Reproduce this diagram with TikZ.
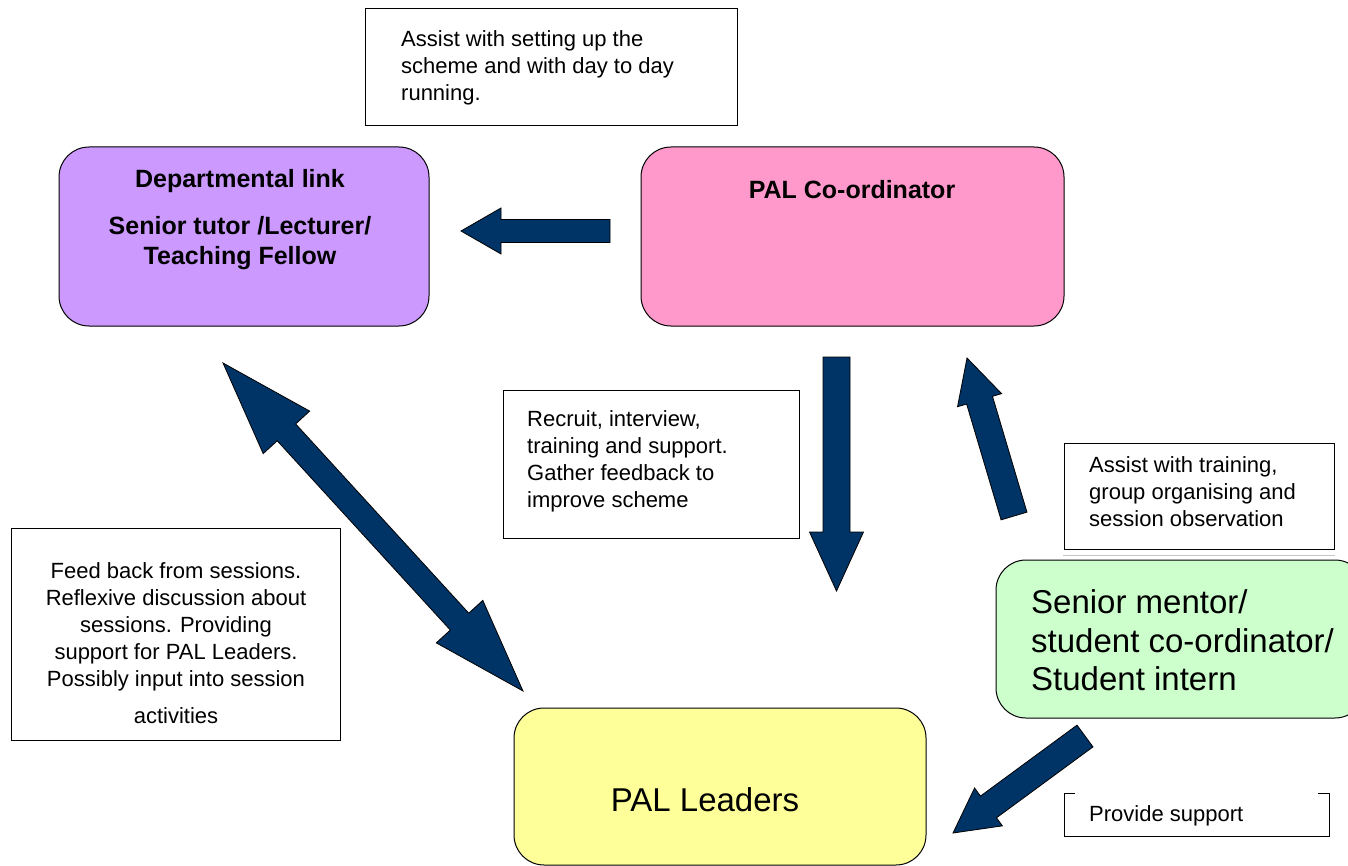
\documentclass[tikz,border=0pt]{standalone}
\usepackage{fontspec}
\setmainfont{Liberation Sans}
\usetikzlibrary{calc}
\definecolor{lav}{HTML}{CC99FF}
\definecolor{pinkc}{HTML}{FF99CC}
\definecolor{greenc}{HTML}{CCFFCC}
\definecolor{yellowc}{HTML}{FFFF99}
\definecolor{navy}{HTML}{003366}
\tikzset{
  rbox/.style={draw=black, line width=1pt, rounded corners=30pt, inner sep=0pt},
  tbox/.style={draw=black, line width=0.9pt, inner sep=0pt, fill=white},
  smalltxt/.style={font=\fontsize{22}{27}\selectfont, inner sep=0pt},
  boldtxt/.style={font=\bfseries\fontsize{25}{30}\selectfont, inner sep=0pt, align=center},
  bigtxt/.style={font=\fontsize{33}{38.5}\selectfont, inner sep=0pt},
  barrow/.style={draw=black, line width=0.8pt, fill=navy, line join=miter},
}
\newcommand\blockarrow[5]{%
  \path let \p1=(#1), \p2=(#2) in \pgfextra{%
    \pgfmathsetmacro\tmpang{atan2(\y2-\y1,\x2-\x1)}%
    \pgfmathsetmacro\tmplen{veclen(\x2-\x1,\y2-\y1)}%
    \xdef\baang{\tmpang}\xdef\balen{\tmplen}};
  \begin{scope}[shift={(#1)}, rotate=\baang, x=1pt, y=1pt]
    \pgfmathsetmacro\bb{\balen-#5}
    \draw[barrow] (0,-#3/2) -- (\bb,-#3/2) -- (\bb,-#4/2) -- (\balen,0)
      -- (\bb,#4/2) -- (\bb,#3/2) -- (0,#3/2) -- cycle;
  \end{scope}}
\newcommand\dblarrow[5]{%
  \path let \p1=(#1), \p2=(#2) in \pgfextra{%
    \pgfmathsetmacro\tmpang{atan2(\y2-\y1,\x2-\x1)}%
    \pgfmathsetmacro\tmplen{veclen(\x2-\x1,\y2-\y1)}%
    \xdef\baang{\tmpang}\xdef\balen{\tmplen}};
  \begin{scope}[shift={(#1)}, rotate=\baang, x=1pt, y=1pt]
    \pgfmathsetmacro\bb{\balen-#5}
    \draw[barrow] (0,0) -- (#5,#4/2) -- (#5,#3/2) -- (\bb,#3/2) -- (\bb,#4/2)
      -- (\balen,0) -- (\bb,-#4/2) -- (\bb,-#3/2) -- (#5,-#3/2) -- (#5,-#4/2) -- cycle;
  \end{scope}}
\begin{document}
\begin{tikzpicture}[x=1pt, y=-1pt]
\useasboundingbox (0,0) rectangle (1348,866);
% boxes
\node[tbox, minimum width=372pt, minimum height=117pt] (topbox) at (551,66.5) {};
\node[smalltxt, anchor=west, align=left] (topbox-t) at (401,68) {Assist with setting up the\\scheme and with day to day\\running.};

\node[rbox, fill=lav, minimum width=370pt, minimum height=179pt] (dept) at (244,236.5) {};
\node[boldtxt] (dept-a) at (240,181) {Departmental link};
\node[boldtxt] (dept-b) at (240,243) {Senior tutor /Lecturer/\\Teaching Fellow};

\node[rbox, fill=pinkc, minimum width=423pt, minimum height=179pt] (coord) at (852.5,236.5) {};
\node[boldtxt] (coord-t) at (852,190) {PAL Co-ordinator};

\node[tbox, minimum width=296pt, minimum height=148pt] (recruit) at (651,464) {};
\node[smalltxt, anchor=west, align=left] (recruit-t) at (527,461.5) {Recruit, interview,\\training and support.\\Gather feedback to\\improve scheme};

\node[tbox, minimum width=270pt, minimum height=106pt] (train) at (1199,496) {};
\node[smalltxt, anchor=west, align=left] (train-t) at (1089,492) {Assist with training,\\group organising and\\session observation};
\draw[gray!45, line width=1pt] (1063,555) -- (1335,555);

\node[rbox, fill=greenc, minimum width=369pt, minimum height=158pt] (mentor) at (1180.5,639) {};
\node[bigtxt, anchor=west, align=left] (mentor-t) at (1031,640.5) {Senior mentor/\\student co-ordinator/\\Student intern};

\node[tbox, minimum width=329pt, minimum height=212pt] (feed) at (175.5,634) {};
\node[smalltxt, align=center] (feed-t) at (176,643.5) {Feed back from sessions.\\Reflexive discussion about\\sessions. Providing\\support for PAL Leaders.\\Possibly input into session\\[10pt]activities};

\node[rbox, fill=yellowc, minimum width=412pt, minimum height=157pt] (leaders) at (720,786.5) {};
\node[bigtxt] (leaders-t) at (705,800) {PAL Leaders};

\draw[black, line width=0.9pt] (1075,793) -- (1064,793) -- (1064,836) -- (1329,836) -- (1329,793) -- (1318,793);
\node[smalltxt, anchor=west] (support-t) at (1089,816) {Provide support};

% arrow end points
\coordinate (a1-tail) at (610,231);
\coordinate (a1-tip) at (461,231);
\coordinate (a2-tail) at (836.5,357);
\coordinate (a2-tip) at (836.5,591);
\coordinate (a3-tail) at (1014,516);
\coordinate (a3-tip) at (967,358);
\coordinate (a4-tipA) at (223,363);
\coordinate (a4-tipB) at (523,691);
\coordinate (a5-tail) at (1085,736);
\coordinate (a5-tip) at (953,833);

\blockarrow{a1-tail}{a1-tip}{23}{46}{40}
\blockarrow{a2-tail}{a2-tip}{27}{54}{59}
\blockarrow{a3-tail}{a3-tip}{27}{46}{44}
\dblarrow{a4-tipA}{a4-tipB}{25}{63}{94}
\blockarrow{a5-tail}{a5-tip}{27}{47}{44}
\end{tikzpicture}
\end{document}
